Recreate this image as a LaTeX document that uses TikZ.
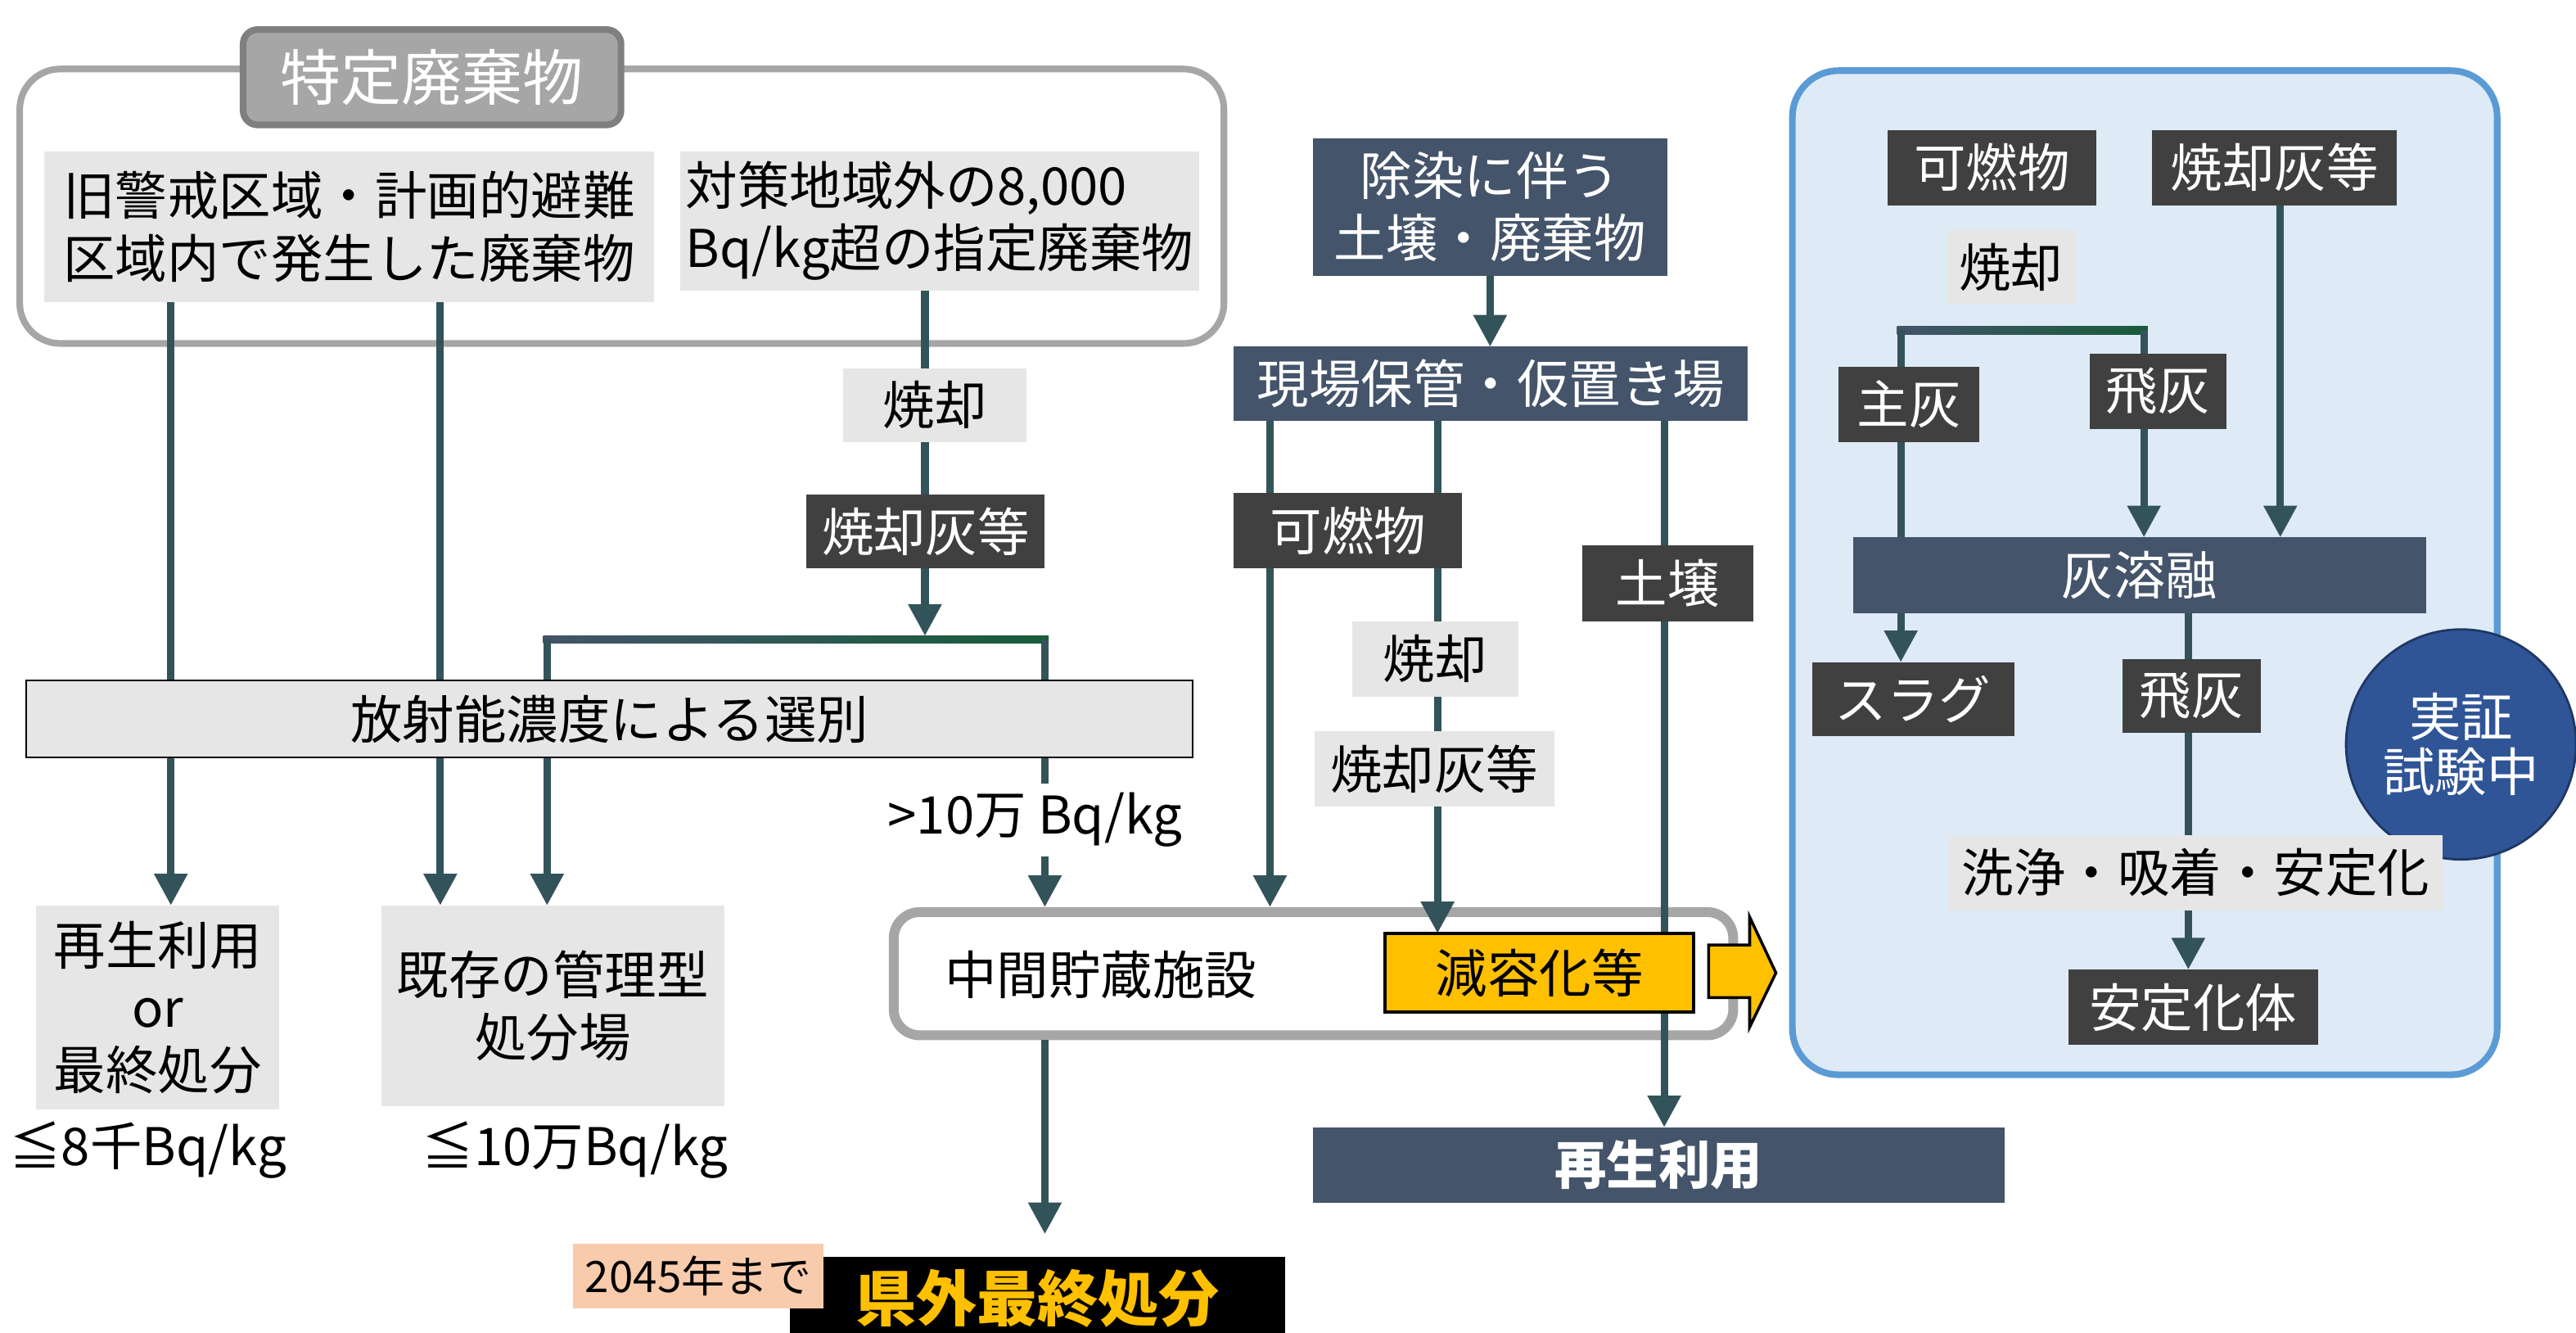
\documentclass[tikz,border=0pt]{standalone}
\usepackage{fontspec}
\setmainfont{Noto Sans CJK JP}
\usetikzlibrary{arrows.meta}
\definecolor{slate}{HTML}{44546A}
\definecolor{dk}{HTML}{404040}
\definecolor{lg}{HTML}{E7E6E6}
\definecolor{gborder}{HTML}{A6A6A6}
\definecolor{gtitle}{HTML}{7F7F7F}
\definecolor{pfill}{HTML}{DEEBF7}
\definecolor{pborder}{HTML}{5B9BD5}
\definecolor{cblue}{HTML}{2F5597}
\definecolor{cborder}{HTML}{1F3864}
\definecolor{gold}{HTML}{FFC000}
\definecolor{peach}{HTML}{F8CBAD}
\definecolor{lncol}{HTML}{33535A}
\definecolor{brL}{HTML}{44546A}
\definecolor{brR}{HTML}{185C3A}
\pgfdeclarelayer{back}
\pgfdeclarelayer{lines}
\pgfsetlayers{back,lines,main}
\begin{document}
\begin{tikzpicture}[x=0.02cm,y=-0.02cm,
  txt/.style={font=\fontsize{18}{21.6}\selectfont},
  box/.style args={#1/#2/#3/#4}{at={({(#1+#3)/2},{(#2+#4)/2})}, anchor=center,
     minimum width={(#3-#1)*0.02cm}, minimum height={(#4-#2)*0.02cm},
     inner sep=0pt, outer sep=0pt, txt, align=center},
  dbox/.style args={#1/#2/#3/#4}{box=#1/#2/#3/#4, fill=slate, text=white},
  gbox/.style args={#1/#2/#3/#4}{box=#1/#2/#3/#4, fill=dk, text=white},
  lbox/.style args={#1/#2/#3/#4}{box=#1/#2/#3/#4, fill=lg, text=black},
  conn/.style={draw=lncol, line width=2.6pt},
  arr/.style={conn, -{Triangle[width=11pt,length=11pt]}},
  lbl/.style={txt, inner sep=3pt}
]
\useasboundingbox (0,0) rectangle (1568,811);

% ---------- background outlines ----------
\begin{pgfonlayer}{back}
\node[box=12/42/745/209, draw=gborder, line width=2.3pt, rounded corners=14pt] (outerA) {};
\node[box=544/555/1055/630, outer sep=1.7pt, draw=gborder, fill=white, line width=3.4pt, rounded corners=9pt] (interim) {};
\node[box=1091/43/1520/654, outer sep=1.2pt, draw=pborder, fill=pfill, line width=2.3pt, rounded corners=16pt] (panel) {};
\end{pgfonlayer}

% ---------- left group ----------
\node[box=148/18/378/76, fill=gborder, draw=gtitle, line width=2.3pt, rounded corners=5pt, text=white, font=\fontsize{21}{25}\selectfont] (title) {特定廃棄物};
\node[lbox=27/92/398/184] (boxA) {旧警戒区域・計画的避難\\区域内で発生した廃棄物};
\node[lbox=414/92/730/177, align=left] (boxB) {対策地域外の8,000\\Bq/kg超の指定廃棄物};
\node[lbox=513/224/625/269] (shoA) {焼却};
\node[gbox=491/301/636/346] (ashA) {焼却灰等};
\node[lbox=16/414/726/461, draw=black, line width=0.6pt] (sortbar) {放射能濃度による選別};
\node[lbox=22/551/170/675] (reuseA) {再生利用\\or\\最終処分};
\node[lbox=232/551/441/673] (landfill) {既存の管理型\\処分場};
\node[lbl] (le8) at (90,700) {≦8千Bq/kg};
\node[lbl] (le10) at (350,700) {≦10万Bq/kg};
\node[lbl] (gt10) at (630,499) {>10万 Bq/kg};

\node[txt] (interimtxt) at (670,593) {中間貯蔵施設};
\node[box=843/568/1031/616, fill=gold, draw=black, line width=1.2pt] (genyo) {減容化等};
\draw[fill=gold, draw=black, line width=1pt] (1040,575) -- (1065,575) -- (1065,558) -- (1081,592) -- (1065,625) -- (1065,607) -- (1040,607) -- cycle;

\node[box=481/765/782/815, fill=black, text=gold, font=\fontsize{21}{25}\selectfont\bfseries] (kengai) {県外最終処分};
\node[box=349/757/501/796, fill=peach, font=\fontsize{15}{18}\selectfont] (y2045) {2045年まで};

% ---------- middle group ----------
\node[dbox=799/84/1015/168] (josen) {除染に伴う\\土壌・廃棄物};
\node[dbox=751/211/1064/256] (genba) {現場保管・仮置き場};
\node[gbox=751/300/890/346] (kanen) {可燃物};
\node[gbox=963/332/1067/378] (dojo) {土壌};
\node[lbox=823/378/924/424] (shoB) {焼却};
\node[lbox=800/445/946/491] (ashB) {焼却灰等};
\node[dbox=799/686/1220/732, font=\fontsize{18}{21.6}\selectfont\bfseries] (saisei) {再生利用};

% ---------- right panel ----------
\node[gbox=1149/79/1276/125] (kanenC) {可燃物};
\node[gbox=1310/79/1459/125] (ashC) {焼却灰等};
\node[lbox=1185/140/1263/185] (shoC) {焼却};
\node[gbox=1119/223/1205/269] (shuhai) {主灰};
\node[gbox=1272/215/1355/261] (hihaiA) {飛灰};
\node[dbox=1128/327/1477/373] (youyu) {灰溶融};
\node[gbox=1103/403/1226/448] (slag) {スラグ};
\node[gbox=1292/401/1376/446] (hihaiB) {飛灰};
\node[circle, fill=cblue, draw=cborder, line width=0.8pt, minimum size=2.8cm, inner sep=0pt, text=white, align=center, font=\fontsize{18}{19}\selectfont] (jissho) at (1498,453) {実証\\試験中};
\node[lbox=1186/508/1487/554] (senjo) {洗浄・吸着・安定化};
\node[gbox=1259/590/1411/636] (antei) {安定化体};

% ---------- connectors ----------
\coordinate (x104) at (104,0);
\coordinate (x268) at (268,0);
\coordinate (x333) at (333,0);
\coordinate (x563) at (563,0);
\coordinate (x636) at (636,0);
\coordinate (x773) at (773,0);
\coordinate (x875) at (875,0);
\coordinate (x1013) at (1013,0);
\coordinate (x1157) at (1157,0);
\coordinate (x1305) at (1305,0);
\coordinate (x1332) at (1332,0);
\coordinate (x1388) at (1388,0);
\coordinate (jA) at (563,387);
\coordinate (jAL) at (333,389);
\coordinate (jAR) at (636,389);
\coordinate (jCL) at (1157,201);
\coordinate (jCR) at (1305,201);

\begin{pgfonlayer}{lines}
\draw[arr] (boxA.south -| x104) -- (reuseA.north -| x104);
\draw[arr] (boxA.south -| x268) -- (landfill.north -| x268);
\draw[arr] (boxB.south -| x563) -- (jA);
\shade[left color=brL, right color=brR] ([shift={(-2.3,-2.3)}]jAL) rectangle ([shift={(2.3,2.3)}]jAR);
\draw[arr] (jAL) -- (landfill.north -| x333);
\draw[conn] (jAR) -- (gt10.north -| x636);
\draw[arr] (gt10.south -| x636) -- (interim.north -| x636);
\draw[arr, shorten >=0.28cm] (interim.south -| x636) -- (kengai.north -| x636);

\draw[arr] (josen.south) -- (genba.north -| josen.south);
\draw[arr] (genba.south -| x773) -- (interim.north -| x773);
\draw[arr] (genba.south -| x875) -- (genyo.north -| x875);
\draw[arr] (genba.south -| x1013) -- (saisei.north -| x1013);

\shade[left color=brL, right color=brR] ([shift={(-2.3,-2.3)}]jCL) rectangle ([shift={(2.3,2.3)}]jCR);
\draw[arr] (jCL) -- (slag.north -| x1157);
\draw[arr] (jCR) -- (youyu.north -| x1305);
\draw[arr] (ashC.south -| x1388) -- (youyu.north -| x1388);
\draw[conn] (youyu.south -| x1332) -- (senjo.north -| x1332);
\draw[arr] (senjo.south -| x1332) -- (antei.north -| x1332);
\end{pgfonlayer}
\end{tikzpicture}
\end{document}
